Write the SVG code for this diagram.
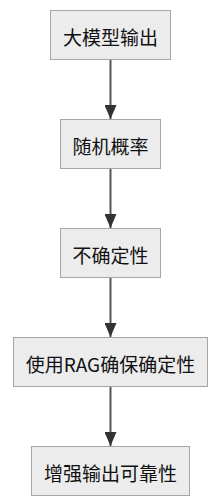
<svg xmlns="http://www.w3.org/2000/svg" width="222" height="504" viewBox="0 0 222 504">
<style>
.node rect{fill:#ececec;stroke:#a6a6a6;stroke-width:1}
.node text{font-family:"Noto Sans CJK SC","Noto Sans",sans-serif;font-size:19px;fill:#111;text-anchor:middle;dominant-baseline:central}
.edge{stroke:#555;stroke-width:2;fill:none;marker-end:url(#arrow)}
</style>
<defs>
<marker id="arrow" markerUnits="userSpaceOnUse" markerWidth="14" markerHeight="12" refX="14" refY="6" orient="auto">
<path d="M0,0 L14,6 L0,12 Z" fill="#333"/>
</marker>
</defs>
<rect width="222" height="504" fill="#fff"/>
<g id="connectors">
<line class="edge" x1="110.5" y1="60" x2="110.5" y2="119"/>
<line class="edge" x1="110.5" y1="169" x2="110.5" y2="228"/>
<line class="edge" x1="110.5" y1="278" x2="110.5" y2="337"/>
<line class="edge" x1="110.5" y1="387" x2="110.5" y2="446"/>
</g>
<g id="n1" class="node"><rect x="50.5" y="10.5" width="120" height="49"/><text x="110.5" y="36">大模型输出</text></g>
<g id="n2" class="node"><rect x="60.5" y="119.5" width="100" height="49"/><text x="110.5" y="145">随机概率</text></g>
<g id="n3" class="node"><rect x="60.5" y="228.5" width="100" height="49"/><text x="110.5" y="254">不确定性</text></g>
<g id="n4" class="node"><rect x="13.5" y="337.5" width="194" height="49"/><text x="110.5" y="363">使用RAG确保确定性</text></g>
<g id="n5" class="node"><rect x="31.5" y="446.5" width="158" height="49"/><text x="110.5" y="472">增强输出可靠性</text></g>
</svg>
